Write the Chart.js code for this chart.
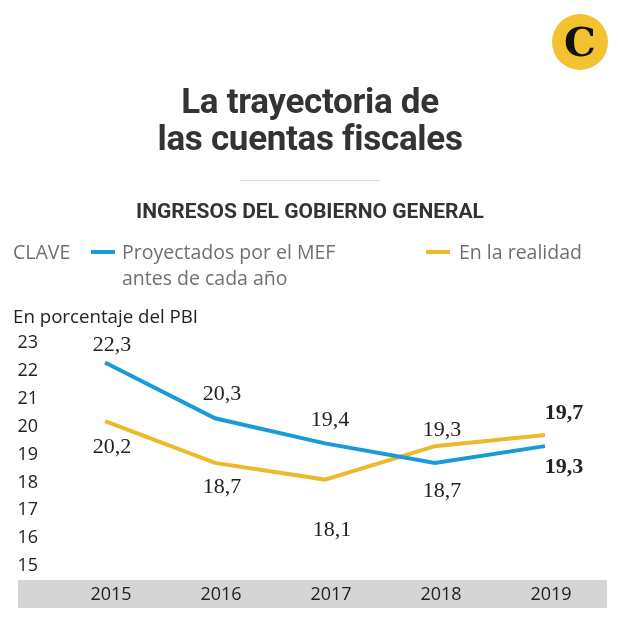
<!DOCTYPE html>
<html>
<head>
<meta charset="utf-8">
<script src="https://cdn.jsdelivr.net/npm/chart.js@4/dist/chart.umd.min.js"></script>
<style>
  body { margin: 0; background: #fff; }
  #wrap { position: relative; width: 620px; height: 633px; overflow: hidden; font-family: "Open Sans", sans-serif; }
  #wrap canvas { position: absolute; left: 0; top: 0; }
  .txt { position: absolute; white-space: nowrap; }
  #title { left: 0; width: 620px; top: 83px; text-align: center; font-family: Roboto, sans-serif; font-weight: 700;
           font-size: 35px; line-height: 37px; color: #333; letter-spacing: -0.3px; }
  #rule { position: absolute; left: 240px; top: 180px; width: 140px; height: 1px; background: #ddd; }
  #sub { left: 0; width: 620px; top: 199px; text-align: center; font-family: Roboto, sans-serif; font-weight: 700;
         font-size: 21px; color: #333; }
  .leg { font-size: 19.5px; line-height: 26px; color: #707070; }
  .dash { position: absolute; width: 24px; height: 4px; }
  #unit { left: 13px; top: 303px; font-size: 18.7px; color: #222; }
  #logo { position: absolute; left: 552px; top: 14px; width: 56px; height: 56px; border-radius: 50%; background: #f3c231;
          text-align: center; font-family: "DejaVu Serif", serif; font-weight: 700; font-size: 40px; line-height: 56px; color: #111; }
</style>
</head>
<body>
<div id="wrap">
  <canvas id="chart" width="620" height="633"></canvas>
  <div id="logo">C</div>
  <div class="txt" id="title">La trayectoria de<br>las cuentas fiscales</div>
  <div id="rule"></div>
  <div class="txt" id="sub">INGRESOS DEL GOBIERNO GENERAL</div>
  <div class="txt leg" style="left:13px; top:239px;">CLAVE</div>
  <div class="dash" style="left:91px; top:250px; background:#1a9ad6;"></div>
  <div class="txt leg" style="left:122px; top:239px;">Proyectados por el MEF<br>antes de cada año</div>
  <div class="dash" style="left:426px; top:250px; background:#ebb92a;"></div>
  <div class="txt leg" style="left:459px; top:239px;">En la realidad</div>
  <div class="txt" id="unit">En porcentaje del PBI</div>
</div>
<script>
const years = ['2015', '2016', '2017', '2018', '2019'];
const projected = [22.3, 20.3, 19.4, 18.7, 19.3];
const actual = [20.2, 18.7, 18.1, 19.3, 19.7];
const yMin = 15, yMax = 23;

// value labels next to each point
const valueLabels = {
  id: 'valueLabels',
  afterDatasetsDraw(chart) {
    const ctx = chart.ctx;
    ctx.save();
    ctx.textAlign = 'center';
    ctx.textBaseline = 'middle';
    ctx.fillStyle = '#222';
    chart.data.datasets.forEach((ds, di) => {
      const meta = chart.getDatasetMeta(di);
      meta.data.forEach((pt, i) => {
        const bold = i === ds.data.length - 1;
        ctx.font = (bold ? 'bold ' : '') + '22px "Liberation Serif", serif';
        const txt = ds.data[i].toFixed(1).replace('.', ',');
        ctx.fillText(txt, pt.x + ds.labelDx[i], pt.y + ds.labelDy[i]);
      });
    });
    ctx.restore();
  }
};

// grey band behind the year labels
const yearBand = {
  id: 'yearBand',
  beforeDraw(chart) {
    const ctx = chart.ctx;
    const b = chart.chartArea.bottom;
    ctx.save();
    ctx.fillStyle = '#d5d5d5';
    ctx.fillRect(18, b + 14, 589, 28);
    ctx.restore();
  }
};

new Chart(document.getElementById('chart'), {
  type: 'line',
  data: {
    labels: years,
    datasets: [
      {
        data: projected, borderColor: '#1a9ad6', borderWidth: 4, pointRadius: 0, tension: 0,
        labelDx: [7, 7, 5, 7, 19], labelDy: [-17, -24, -23, 28, 21]
      },
      {
        data: actual, borderColor: '#ebb92a', borderWidth: 4, pointRadius: 0, tension: 0,
        labelDx: [7, 7, 7, 7, 19], labelDy: [26, 24, 51, -16, -22]
      }
    ]
  },
  options: {
    responsive: false,
    animation: false,
    layout: { padding: { top: 343, left: 0, right: 20, bottom: 25 } },
    plugins: { legend: { display: false }, tooltip: { enabled: false } },
    scales: {
      x: {
        offset: true,
        grid: { display: false, drawTicks: false },
        border: { display: false },
        ticks: { color: '#222', padding: 18, labelOffset: 6, font: { family: 'Open Sans', size: 18 } },
        afterFit: s => { s.height = 42; }
      },
      y: {
        min: yMin, max: yMax,
        grid: { display: false, drawTicks: false },
        border: { display: false },
        ticks: { stepSize: 1, color: '#222', padding: 12, font: { family: 'Open Sans', size: 18 } },
        afterFit: s => { s.width = 50; }
      }
    }
  },
  plugins: [yearBand, valueLabels]
});
</script>
</body>
</html>
